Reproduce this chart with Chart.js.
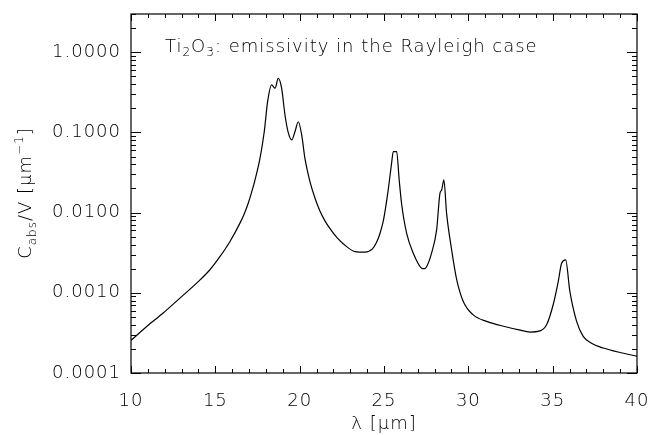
<!DOCTYPE html>
<html>
<head>
<meta charset="utf-8">
<script src="https://cdn.jsdelivr.net/npm/chart.js@4"></script>
<style>
html,body{margin:0;padding:0;background:#fff;}
#wrap{width:652px;height:435px;position:relative;}
</style>
</head>
<body>
<div id="wrap"><canvas id="c"></canvas></div>
<script>
// wavelength in micron
const wavelength = [10.0, 10.93, 11.91, 12.9, 13.89, 14.68, 15.28, 15.87, 16.46, 16.7, 16.95, 17.2, 17.35, 17.65, 17.9, 18.1, 18.34, 18.54, 18.73, 18.93, 19.13, 19.32, 19.53, 19.72, 19.92, 20.12, 20.31, 20.61, 20.91, 21.2, 21.5, 21.8, 22.2, 22.58, 23.28, 23.87, 24.3, 24.56, 24.76, 24.96, 25.1, 25.25, 25.45, 25.55, 25.75, 25.9, 26.04, 26.34, 26.73, 27.23, 27.4, 27.53, 27.82, 28.12, 28.32, 28.42, 28.55, 28.71, 29.01, 29.31, 29.7, 30.29, 31.08, 32.27, 33.0, 33.65, 34.24, 34.64, 35.03, 35.33, 35.53, 35.77, 36.02, 36.42, 36.81, 37.3, 38.0, 39.0, 40.0];
// C_abs/V in micron^-1
const cabsV = [2.55e-4, 3.81e-4, 5.6e-4, 8.59e-4, 1.32e-3, 1.94e-3, 2.84e-3, 4.37e-3, 7.4e-3, 9.5e-3, 0.0131, 0.0195, 0.0255, 0.0478, 0.102, 0.242, 0.391, 0.356, 0.473, 0.356, 0.165, 0.1, 0.0807, 0.102, 0.136, 0.093, 0.0478, 0.0244, 0.0151, 0.0105, 0.0079, 0.0063, 0.0049, 0.0041, 0.00327, 0.00322, 0.0035, 0.00427, 0.0055, 0.0079, 0.0117, 0.0192, 0.0414, 0.0577, 0.0577, 0.0257, 0.0131, 0.00555, 0.00313, 0.00203, 0.0020, 0.00213, 0.00313, 0.0061, 0.0175, 0.0192, 0.0257, 0.00986, 0.00344, 0.00146, 7.8e-4, 5.3e-4, 4.4e-4, 3.75e-4, 3.45e-4, 3.24e-4, 3.35e-4, 4.0e-4, 7.1e-4, 1.38e-3, 2.34e-3, 2.58e-3, 1.04e-3, 4.4e-4, 2.86e-4, 2.35e-4, 2.05e-4, 1.8e-4, 1.62e-4];
const xTicks = [10, 15, 20, 25, 30, 35, 40];
const yTicks = [0.0001, 0.001, 0.01, 0.1, 1];
const xTitle = 'λ [μm]';

const FONT = 'DejaVu Sans';
Chart.defaults.font.family = FONT;
Chart.defaults.font.size = 18;
Chart.defaults.font.weight = '200';
Chart.defaults.color = '#000';

const spacingPlugin = {
  id: 'spacing',
  beforeDraw(chart) { chart.ctx.letterSpacing = '1px'; }
};

const framePlugin = {
  id: 'frame',
  afterDraw(chart) {
    const {ctx, chartArea: a, scales: {x, y}} = chart;
    ctx.save();
    ctx.strokeStyle = '#000';
    ctx.lineWidth = 1.2;
    ctx.strokeRect(a.left, a.top, a.right - a.left, a.bottom - a.top);
    ctx.lineWidth = 1;
    ctx.beginPath();
    for (let v = x.min; v <= x.max; v++) {
      const px = Math.round(x.getPixelForValue(v)) + 0.5;
      const len = (v % 5 === 0) ? 7 : 4;
      ctx.moveTo(px, a.bottom); ctx.lineTo(px, a.bottom - len);
      ctx.moveTo(px, a.top); ctx.lineTo(px, a.top + len);
    }
    for (let d = -4; d <= 0; d++) {
      for (let m = 1; m <= 9; m++) {
        const v = m * Math.pow(10, d);
        if (v > y.max) break;
        const py = Math.round(y.getPixelForValue(v)) + 0.5;
        const len = m === 1 ? 10 : 5;
        ctx.moveTo(a.left, py); ctx.lineTo(a.left + len, py);
        ctx.moveTo(a.right, py); ctx.lineTo(a.right - len, py);
      }
    }
    ctx.stroke();

    // annotation
    ctx.fillStyle = '#000';
    ctx.textBaseline = 'alphabetic';
    ctx.textAlign = 'left';
    ctx.letterSpacing = '1px';
    const big = '200 18px "' + FONT + '"', small = '200 12px "' + FONT + '"';
    let cx = 165; const by = 52;
    const parts = [['Ti', big, 0], ['2', small, 4], ['O', big, 0], ['3', small, 4], [': emissivity in the Rayleigh case', big, 0]];
    for (const [t, f, dy] of parts) {
      ctx.font = f; ctx.fillText(t, cx, by + dy); cx += ctx.measureText(t).width;
    }

    // y title
    const yparts = [['C', big, 0], ['abs', small, 5], ['/V [μm', big, 0], ['−1', small, -8], [']', big, 0]];
    let total = 0;
    for (const [t, f] of yparts) { ctx.font = f; total += ctx.measureText(t).width; }
    ctx.translate(31, 193);
    ctx.rotate(-Math.PI / 2);
    let tx = -total / 2;
    for (const [t, f, dy] of yparts) {
      ctx.font = f; ctx.fillText(t, tx, dy); tx += ctx.measureText(t).width;
    }
    ctx.restore();
  }
};

new Chart(document.getElementById('c'), {
  type: 'line',
  data: {
    datasets: [{
      data: wavelength.map((w, i) => ({x: w, y: cabsV[i]})),
      borderColor: '#000',
      borderWidth: 1.2,
      pointRadius: 0,
      fill: false,
      cubicInterpolationMode: 'monotone'
    }]
  },
  options: {
    responsive: true,
    maintainAspectRatio: false,
    animation: false,
    layout: {padding: {top: 14, right: 15, left: 0, bottom: 0}},
    plugins: {legend: {display: false}, tooltip: {enabled: false}},
    scales: {
      x: {
        type: 'linear', min: 10, max: 40,
        grid: {display: false, drawTicks: false},
        border: {display: false},
        afterBuildTicks(s) { s.ticks = xTicks.map(v => ({value: v})); },
        afterFit(s) { s.height = 62; s.paddingLeft = 0; s.paddingRight = 0; },
        ticks: {padding: 18, maxRotation: 0},
        title: {display: true, text: xTitle, padding: {top: 0, bottom: 0}}
      },
      y: {
        type: 'logarithmic', min: 0.0001, max: 3,
        grid: {display: false, drawTicks: false},
        border: {display: false},
        afterBuildTicks(s) { s.ticks = yTicks.map(v => ({value: v})); },
        afterFit(s) { s.width = 131; s.paddingTop = 0; s.paddingBottom = 0; },
        ticks: {padding: 10, callback: v => Number(v).toFixed(4)}
      }
    }
  },
  plugins: [spacingPlugin, framePlugin]
});
</script>
</body>
</html>
